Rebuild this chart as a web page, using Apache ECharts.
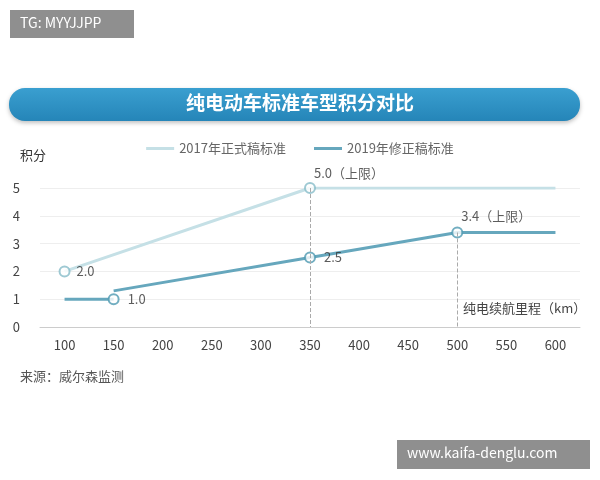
<!DOCTYPE html><html><head><meta charset="utf-8"><script src="https://cdn.jsdelivr.net/npm/echarts@6/dist/echarts.min.js"></script></head><body style="margin:0"><div id="c" style="width:600px;height:480px"></div><script>
const xTicks=[100,150,200,250,300,350,400,450,500,550,600];
const s2017=[[100,2.0],[350,5.0],[600,5.0]];
const s2019a=[[100,1.0],[150,1.0]];
const s2019b=[[150,1.3],[350,2.5],[500,3.4],[600,3.4]];
const markers2017=[[100,2.0],[350,5.0]];
const labels2017=['2.0','5.0（上限）'];
const markers2019=[[150,1.0],[350,2.5],[500,3.4]];
const labels2019=['1.0','2.5','3.4（上限）'];
const c1='#c5e0e6',c2='#66a7bd';
const chart=echarts.init(document.getElementById('c'));
const F='"Noto Sans CJK SC",sans-serif';
const lab=(arr,pos)=>arr.map((v,i)=>({value:v,label:pos[i]}));
chart.setOption({
 backgroundColor:'#fff',
 textStyle:{fontFamily:F},
 graphic:[
  {type:'rect',shape:{x:10,y:10,width:124,height:28},style:{fill:'#8f8f8f'}},
  {type:'text',left:20,top:16,style:{text:'TG: MYYJJPP',fill:'#fff',font:'14px '+F}},
  {type:'rect',shape:{x:9,y:88,width:571,height:33,r:16},style:{fill:new echarts.graphic.LinearGradient(0,0,0,1,[{offset:0,color:'#3a9fd0'},{offset:1,color:'#2585b8'}]),shadowBlur:4,shadowColor:'rgba(0,0,0,0.25)',shadowOffsetY:2}},
  {type:'text',left:'center',top:93,style:{text:'纯电动车标准车型积分对比',fill:'#fff',font:'bold 19px '+F}},
  {type:'text',left:20,top:370,style:{text:'来源：威尔森监测',fill:'#555',font:'13px '+F}},
  {type:'rect',shape:{x:397,y:440,width:193,height:29},style:{fill:'#8f8f8f'}},
  {type:'text',left:407,top:446,style:{text:'www.kaifa-denglu.com',fill:'#fff',font:'14px '+F}},
  {type:'text',left:463,top:302,style:{text:'纯电续航里程（km）',fill:'#444',font:'13px '+F}},
  {type:'text',left:20,top:149,style:{text:'积分',fill:'#333',font:'13px '+F}}
 ],
 legend:{top:137,left:'center',itemWidth:28,itemHeight:3,itemGap:28,textStyle:{color:'#666',fontSize:13},
   data:[{name:'2017年正式稿标准',icon:'rect'},{name:'2019年修正稿标准',icon:'rect'}]},
 grid:{left:40,right:20,top:188,bottom:153},
 xAxis:{type:'value',min:75,max:625,axisLine:{lineStyle:{color:'#ccc'}},axisTick:{show:false},splitLine:{show:false},axisLabel:{customValues:xTicks,color:'#444',fontSize:13,margin:12}},
 yAxis:{type:'value',min:0,max:5,interval:1,axisLine:{show:false},axisTick:{show:false},splitLine:{lineStyle:{color:'#eee'}},axisLabel:{color:'#444',fontSize:13,margin:20}},
 series:[
  {name:'2017年正式稿标准',type:'line',data:s2017,itemStyle:{color:c1},lineStyle:{width:3,color:c1},symbol:'none',z:2,
   markLine:{silent:true,symbol:'none',label:{show:false},lineStyle:{type:'dashed',color:'#aaa',width:1},data:[[{coord:[350,5]},{coord:[350,0]}],[{coord:[500,3.4]},{coord:[500,0]}]]}},
  {name:'2019年修正稿标准',type:'line',data:s2019a,itemStyle:{color:c2},lineStyle:{width:3,color:c2},symbol:'none',z:3},
  {name:'2019年修正稿标准',type:'line',data:s2019b,itemStyle:{color:c2},lineStyle:{width:3,color:c2},symbol:'none',z:3},
  {name:'m1',type:'scatter',data:lab(markers2017,[{position:'right'},{position:[10,-15]}]).map((d,i)=>({...d,label:{...d.label,formatter:labels2017[i]}})),
   symbolSize:10,itemStyle:{color:'#fff',borderColor:'#86bcc8',borderWidth:2},z:4,label:{show:true,distance:6,fontSize:13,color:'#333'}},
  {name:'m2',type:'scatter',data:lab(markers2019,[{position:'right'},{position:'right'},{position:[10,-17]}]).map((d,i)=>({...d,label:{...d.label,formatter:labels2019[i]}})),
   symbolSize:10,itemStyle:{color:'#fff',borderColor:'#4f9ab2',borderWidth:2},z:4,label:{show:true,distance:8,fontSize:13,color:'#333'}}
 ]
});
</script></body></html>
